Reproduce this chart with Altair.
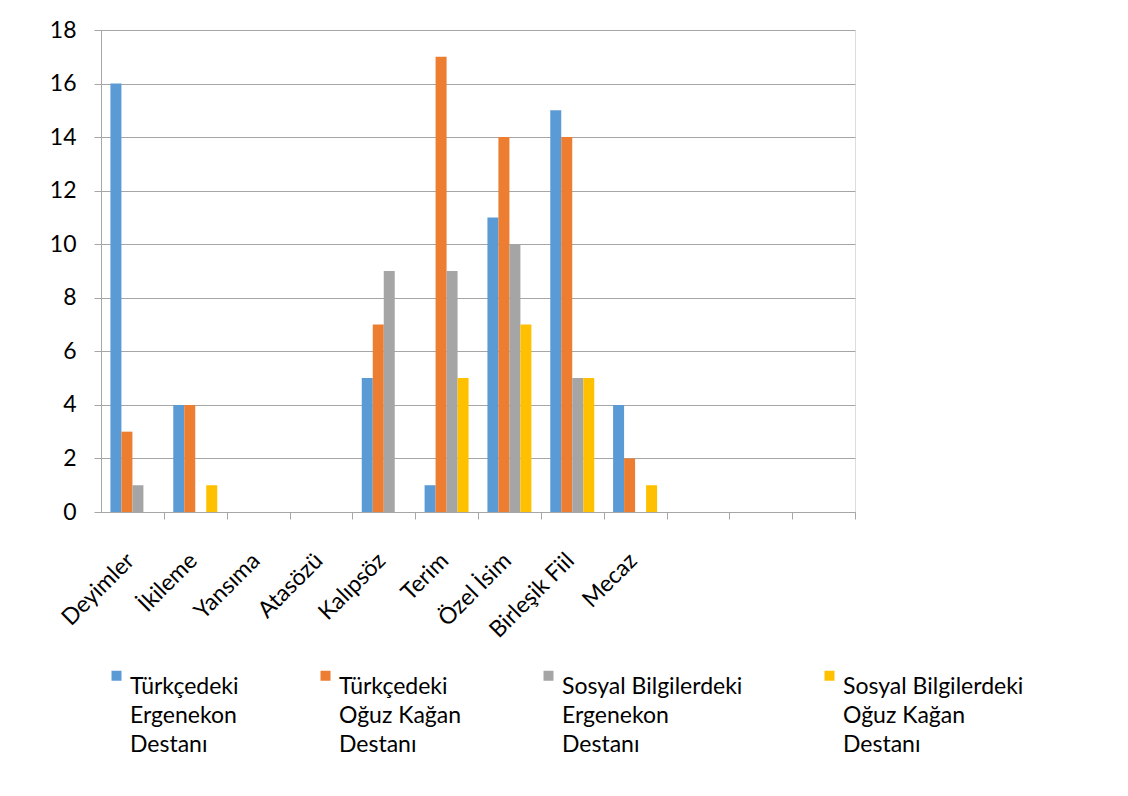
import altair as alt
import pandas as pd

categories = ["Deyimler", "İkileme", "Yansıma", "Atasözü", "Kalıpsöz", "Terim",
              "Özel İsim", "Birleşik Fiil", "Mecaz"]
blank_slots = ["_1", "_2", "_3"]
series = ["Türkçedeki Ergenekon Destanı", "Türkçedeki Oğuz Kağan Destanı",
          "Sosyal Bilgilerdeki Ergenekon Destanı", "Sosyal Bilgilerdeki Oğuz Kağan Destanı"]
turk_ergenekon = [16, 4, 0, 0, 5, 1, 11, 15, 4]
turk_oguz = [3, 4, 0, 0, 7, 17, 14, 14, 2]
sosyal_ergenekon = [1, 0, 0, 0, 9, 9, 10, 5, 0]
sosyal_oguz = [0, 1, 0, 0, 0, 5, 7, 5, 1]
colors = ["#5B9BD5", "#ED7D31", "#A5A5A5", "#FFC000"]

rows = []
for s, vals in zip(series, [turk_ergenekon, turk_oguz, sosyal_ergenekon, sosyal_oguz]):
    for c, v in zip(categories, vals):
        rows.append({"kategori": c, "seri": s, "deger": v})
df = pd.DataFrame(rows)

FONT = "Lato"
FS = 23
GRID = "#A6A6A6"
HALF_GAP = 754 / 12 * 0.15

chart = alt.Chart(df).mark_bar().encode(
    x=alt.X("kategori:N", sort=categories + blank_slots,
            scale=alt.Scale(domain=categories + blank_slots, paddingInner=0.3, paddingOuter=0.15),
            axis=alt.Axis(title=None, labelAngle=-45, labelAlign="right",
                          labelPadding=30, tickSize=7, bandPosition=1, tickExtra=False,
                          tickOffset=HALF_GAP, labelOffset=-10 - HALF_GAP,
                          tickColor=GRID, domainColor=GRID, labelFont=FONT,
                          labelFontSize=FS, labelColor="#000000", grid=False,
                          labelExpr="indexof(datum.value, '_') == 0 ? '' : datum.value")),
    xOffset=alt.XOffset("seri:N", sort=series),
    y=alt.Y("deger:Q", scale=alt.Scale(domain=[0, 18], nice=False),
            axis=alt.Axis(title=None, tickCount=9, gridColor=GRID, tickColor=GRID,
                          domainColor=GRID, tickSize=7, labelPadding=18, labelFont=FONT,
                          labelFontSize=FS, labelColor="#000000")),
    color=alt.Color("seri:N", sort=series,
                    scale=alt.Scale(domain=series, range=colors),
                    legend=alt.Legend(title=None, orient="bottom", symbolType="square",
                                      direction="horizontal", columns=4, columnPadding=75,
                                      padding=4, offset=17, labelBaseline="top", labelOffset=2,
                                      labelFont=FONT, labelFontSize=FS, labelColor="#000000",
                                      labelLimit=400, symbolSize=100,
                                      labelExpr="datum.value == 'Türkçedeki Ergenekon Destanı' ? ['Türkçedeki', 'Ergenekon', 'Destanı'] : datum.value == 'Türkçedeki Oğuz Kağan Destanı' ? ['Türkçedeki', 'Oğuz Kağan', 'Destanı'] : datum.value == 'Sosyal Bilgilerdeki Ergenekon Destanı' ? ['Sosyal Bilgilerdeki', 'Ergenekon', 'Destanı'] : ['Sosyal Bilgilerdeki', 'Oğuz Kağan', 'Destanı']")),
).properties(
    width=754, height=482,
    padding={"left": 49, "top": 19, "right": 5, "bottom": 5},
).configure(style={"guide-label": {"lineHeight": 29}})

chart.save("out.html", embed_options={"renderer": "svg", "actions": False})
